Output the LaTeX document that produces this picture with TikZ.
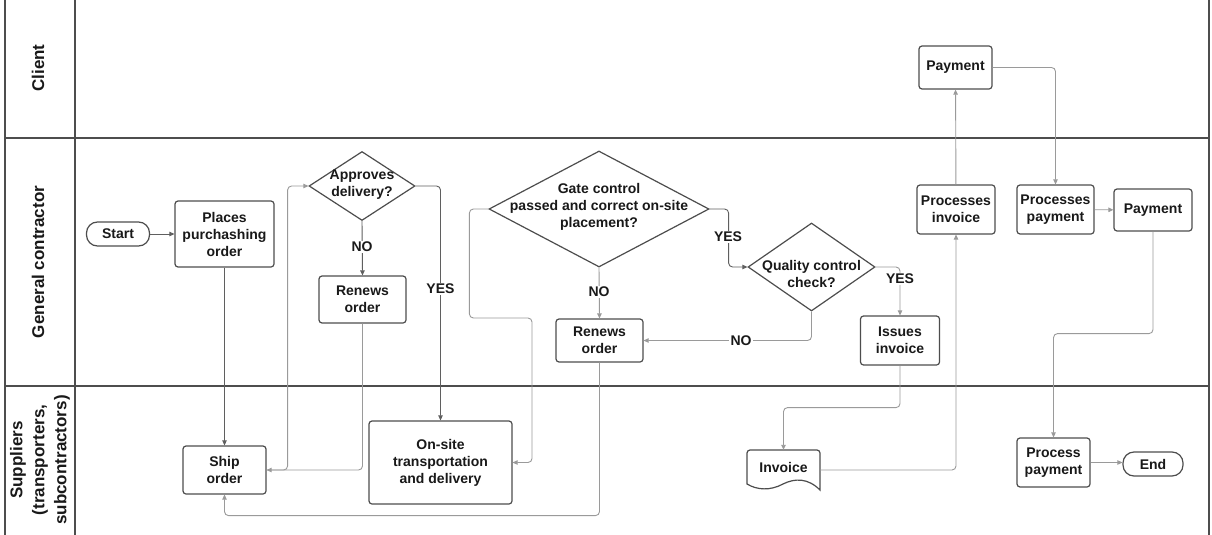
\documentclass[tikz,border=0pt]{standalone}
\usepackage{fontspec}
\setmainfont{Liberation Sans}
\usetikzlibrary{arrows.meta,shapes.geometric}
\definecolor{bordc}{HTML}{4D4D4D}
\definecolor{connc}{HTML}{9A9A9A}
\definecolor{darkc}{HTML}{5F5F5F}
\begin{document}
\begin{tikzpicture}[x=1pt,y=-1pt,
 nfont/.style={font=\bfseries\fontsize{14}{17}\selectfont},
 box/.style={draw=bordc, line width=1.2pt, rounded corners=3pt, fill=white, align=center, inner sep=0pt, nfont, text=black!90},
 pill/.style={box, rounded corners=11pt},
 dia/.style={diamond, draw=bordc, line width=1.2pt, inner sep=0pt, fill=white},
 diatext/.style={align=center, inner sep=0pt, nfont, text=black!90},
 conn/.style={draw=connc, line width=0.9pt, rounded corners=4pt, -{Triangle[length=5pt,width=4.5pt]}},
 dconn/.style={conn, draw=darkc},
 lab/.style={fill=white, nfont, inner sep=1.5pt, text=black!90},
 lane/.style={draw=bordc, line width=1.6pt},
 lanetext/.style={rotate=90, align=center, font=\bfseries\fontsize{17}{22}\selectfont, text=black!90}
]
\fill[white] (0,0) rectangle (1212,535);
\useasboundingbox (0,0) rectangle (1212,535);

% swimlanes
\draw[lane] (5,0) -- (5,535);
\draw[lane] (75,0) -- (75,535);
\draw[lane] (1209,0) -- (1209,535);
\draw[lane] (5,138) -- (1209,138);
\draw[lane] (5,386) -- (1209,386);
\node[lanetext] (lclient) at (38,68) {Client};
\node[lanetext] (lgc) at (38,262) {General contractor};
\node[lanetext] (lsup) at (40,460) {Suppliers\\(transporters,\\subcontractors)};

% nodes
\node[pill, minimum width=63pt, minimum height=24pt] (start) at (118,234) {Start};
\node[box, minimum width=99pt, minimum height=66pt] (places) at (224.5,234) {Places\\purchashing\\order};
\node[box, minimum width=83pt, minimum height=48pt] (ship) at (224.5,470) {Ship\\order};
\node[dia, minimum width=106pt, minimum height=69pt] (appr) at (362,186) {};
\node[diatext] (apprt) at (362,185) {Approves\\delivery?};
\node[box, minimum width=87pt, minimum height=47pt] (ren1) at (362.5,299.5) {Renews\\order};
\node[box, minimum width=143pt, minimum height=83pt] (onsite) at (440.5,462.5) {On-site\\transportation\\and delivery};
\node[dia, minimum width=220pt, minimum height=116pt] (gate) at (599,209) {};
\node[diatext] (gatet) at (599,207) {Gate control\\passed and correct on-site\\placement?};
\node[box, minimum width=87pt, minimum height=43pt] (ren2) at (599.5,340.5) {Renews\\order};
\node[dia, minimum width=127pt, minimum height=88pt] (qual) at (811.5,267) {};
\node[diatext] (qualt) at (811.5,274) {Quality control\\check?};
\node[box, minimum width=79pt, minimum height=49pt] (issues) at (900,340.5) {Issues\\invoice};
\draw[bordc, line width=1.2pt, fill=white] (747,484) [rounded corners=3pt]-- (747,450) -- (820,450) [sharp corners]-- (820,490)
  .. controls (808,478) and (795,478) .. (783,484) .. controls (770,491) and (757,490) .. (747,484) -- cycle;
\node[diatext, minimum width=73pt, minimum height=34pt] (inv) at (783.5,467) {Invoice};
\node[box, minimum width=78pt, minimum height=49pt] (procinv) at (956,209.5) {Processes\\invoice};
\node[box, minimum width=73pt, minimum height=43pt] (pay1) at (955.5,67.5) {Payment};
\node[box, minimum width=77pt, minimum height=49pt] (procpay) at (1055.5,209.5) {Processes\\payment};
\node[box, minimum width=78pt, minimum height=42pt] (pay2) at (1153,210) {Payment};
\node[box, minimum width=73pt, minimum height=49pt] (procp) at (1053.5,462.5) {Process\\payment};
\node[pill, minimum width=60pt, minimum height=24pt] (end) at (1153,464) {End};

% connectors
\draw[dconn] (start) -- (places);
\draw[dconn] (places) -- (ship);
\draw[conn] (ship.east) -- ++(21,0) |- (appr.west);
\draw[conn] (ren1.south) |- (ship.east);
\draw[dconn] (appr.south) -- (ren1.north);
\draw[dconn] (appr.east) -| (onsite.north);
\draw[conn] (gate.west) -- ++(-19,0) |- (532,318) |- (onsite.east);
\draw[conn] (gate.south) -- (ren2.north);
\draw[dconn] (gate.east) -- ++(19,0) |- (qual.west);
\draw[conn] (qual.south) |- (ren2.east);
\draw[conn] (qual.east) -| (issues.north);
\draw[conn] (issues.south) -- ++(0,42) -| (inv.north);
\draw[conn] ([yshift=-3pt]inv.east) -| (procinv.south);
\draw[conn] (procinv) -- (pay1);
\draw[conn] (pay1.east) -| (procpay.north);
\draw[conn] (procpay) -- (pay2);
\draw[conn] (pay2.south) -- ++(0,102) -| (procp.north);
\draw[conn] (procp.east) -- (procp.east -| end.west);
\draw[conn] (ren2.south) -- ++(0,153) -| (ship.south);

% labels
\node[lab] (l1) at (362,247) {NO};
\node[lab] (l2) at (440.5,289) {YES};
\node[lab] (l3) at (599,292) {NO};
\node[lab] (l4) at (728,237) {YES};
\node[lab] (l5) at (741,340.5) {NO};
\node[lab] (l6) at (900,279) {YES};
\end{tikzpicture}
\end{document}
